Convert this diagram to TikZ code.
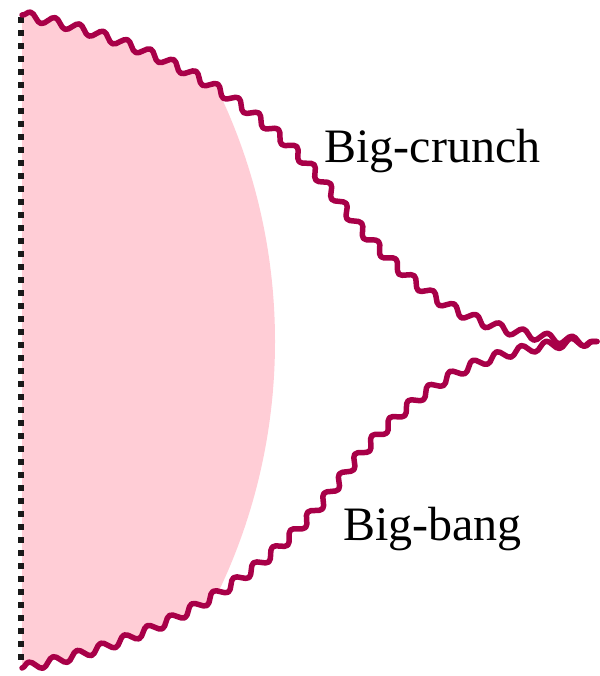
\documentclass[tikz,border=0pt]{standalone}
\usepackage{fontspec}
\setmainfont{Liberation Serif}
\usetikzlibrary{decorations.pathmorphing}
\definecolor{wavecol}{RGB}{168,0,72}
\definecolor{pinkfill}{RGB}{255,205,214}
\begin{document}
\begin{tikzpicture}[x=1pt,y=-1pt,
  wave/.style={draw=wavecol,line width=5.5pt,line cap=round,line join=round},
  wavedeco/.style={decoration={snake,segment length=25pt,amplitude=4.5pt}},
  edge/.style={draw=black!90,line width=6pt,dash pattern=on 6pt off 7pt},
  lab/.style={font=\fontsize{48}{52}\selectfont,anchor=base,inner sep=0pt}]
\useasboundingbox (0,0) rectangle (599,676);
\coordinate (A) at (22,15);
\coordinate (B) at (22,668);
\coordinate (T) at (597,341.5);
% pink region
\begin{scope}
  \clip (22,0) rectangle (599,676);
  \path[clip,wavedeco] decorate{(A) .. controls (252,61) and (325,195) .. (355,228)
      .. controls (425,305) and (470,335) .. (T)} -- (620,700) -- (0,700) -- cycle;
  \path[clip,wavedeco] decorate{(B) .. controls (252,622) and (325,488) .. (355,455)
      .. controls (425,378) and (470,348) .. (T)} -- (620,-20) -- (0,-20) -- cycle;
  \fill[pinkfill] (-305.8,341.5) circle[radius=580.8];
\end{scope}
% left edge
\draw[edge] (20.7,17) -- (20.7,666);
% waves
\draw[wave,wavedeco,decorate] (A) .. controls (252,61) and (325,195) .. (355,228)
      .. controls (425,305) and (470,335) .. (T);
\draw[wave,wavedeco,decorate] (B) .. controls (252,622) and (325,488) .. (355,455)
      .. controls (425,378) and (470,348) .. (T);
\node[lab] (crunch) at (432.5,163) {Big-crunch};
\node[lab] (bang) at (432.5,540) {Big-bang};
\end{tikzpicture}
\end{document}
